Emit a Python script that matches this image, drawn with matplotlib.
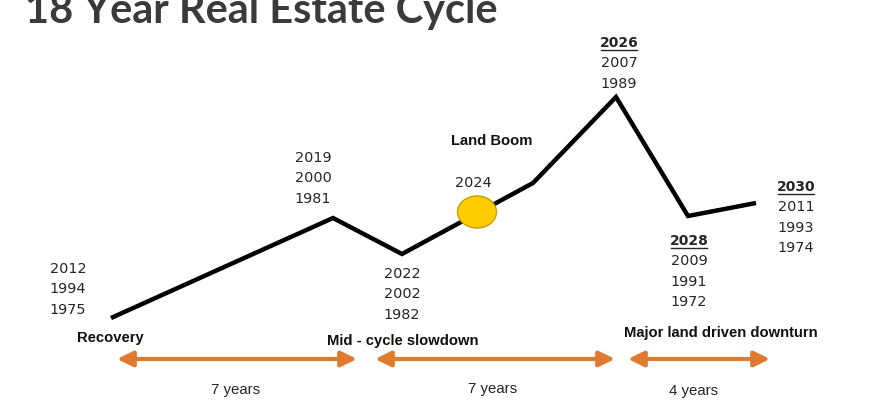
import matplotlib
matplotlib.use("Agg")
import matplotlib.pyplot as plt
from matplotlib.patches import Ellipse, FancyArrowPatch

# ---------------- data ----------------
title = "18 Year Real Estate Cycle"
cycle_x = [111, 333, 402, 533, 616, 688, 756]          # position along the cycle
cycle_level = [82, 182, 146, 217, 303, 184, 197]       # relative market level
marker_x, marker_level = 477, 188                       # "2024" now-marker

year_groups = [
    ["2012", "1994", "1975"],
    ["2019", "2000", "1981"],
    ["2022", "2002", "1982"],
    ["2024"],
    ["2026", "2007", "1989"],
    ["2028", "2009", "1991", "1972"],
    ["2030", "2011", "1993", "1974"],
]
highlight_first = [False, False, False, False, True, True, True]
boom_label = "Land Boom"
phases = ["Recovery", "Mid - cycle slowdown", "Major land driven downturn"]
durations = ["7 years", "7 years", "4 years"]

# ---------------- layout (pixel coords, y measured from top) ----------------
W, H = 870, 400
group_anchor = [(68, 269), (313, 158), (402, 274), (473, 183),
                (619, 43), (689, 241), (796, 187)]
line_gap = 20.3
phase_pos = [(77, 338, "left"), (327, 341, "left"), (624, 333, "left")]
arrow_spans = [(117, 357), (375, 615), (628, 770)]
arrow_y = 359
dur_pos = [(236, 390), (493, 389), (694, 391)]

TXT = "#262626"
ORANGE = "#E07A2E"

fig = plt.figure(figsize=(W / 100, H / 100), dpi=100)
ax = fig.add_axes([0, 0, 1, 1])
ax.set_xlim(0, W)
ax.set_ylim(0, H)
ax.axis("off")


def Y(py):
    return H - py


# cycle line
ax.plot(cycle_x, cycle_level, color="black", lw=3.2,
        solid_joinstyle="miter", solid_capstyle="butt", zorder=3)
ax.add_patch(Ellipse((marker_x, marker_level), 39, 32, facecolor="#FFCC00",
                     edgecolor="#C8A000", lw=1.0, zorder=4))

# year labels
underlined = []
for grp, (cx, cy), hl in zip(year_groups, group_anchor, highlight_first):
    for i, s in enumerate(grp):
        bold = hl and i == 0
        t = ax.text(cx, Y(cy + i * line_gap), s, ha="center", va="center",
                    fontsize=10.0 if bold else 10.4,
                    fontweight="bold" if bold else "normal",
                    family="DejaVu Sans", color=TXT, zorder=5)
        if bold:
            underlined.append((t, cx, cy))

ax.text(492, Y(141), boom_label, ha="center", va="center", fontsize=10.6,
        fontweight="bold", family="Liberation Sans", color="#111111")

for s, (px, py, ha) in zip(phases, phase_pos):
    ax.text(px, Y(py), s, ha=ha, va="center", fontsize=10.6,
            fontweight="bold", family="Liberation Sans", color="#111111")

for (x0, x1) in arrow_spans:
    arr = FancyArrowPatch((x0, Y(arrow_y)), (x1, Y(arrow_y)),
                          arrowstyle="<|-|>,head_length=0.47,head_width=0.23",
                          mutation_scale=20, color=ORANGE, lw=3.0,
                          shrinkA=0, shrinkB=0, joinstyle="round")
    ax.add_patch(arr)

for s, (px, py) in zip(durations, dur_pos):
    ax.text(px, Y(py), s, ha="center", va="center", fontsize=10.8,
            family="Liberation Sans", color=TXT)

# title, fitted to the reference width
tt = fig.text(25 / W, 1 - 23 / H, title, ha="left", va="baseline",
              fontsize=30, fontweight="bold", family="Lato", color="#3a3a3a")
fig.canvas.draw()
r = fig.canvas.get_renderer()
w = tt.get_window_extent(r).width
tt.set_fontsize(30 * 472 / w)

# underlines for highlighted years
fig.canvas.draw()
inv = ax.transData.inverted()
for t, cx, cy in underlined:
    bb = t.get_window_extent(r)
    (xa, _), (xb, _) = inv.transform([(bb.x0, 0), (bb.x1, 0)])
    ax.plot([xa + 1, xb - 1], [Y(cy + 6.5), Y(cy + 6.5)], color=TXT, lw=1.0)

fig.savefig("out.png", dpi=100, facecolor="white")
